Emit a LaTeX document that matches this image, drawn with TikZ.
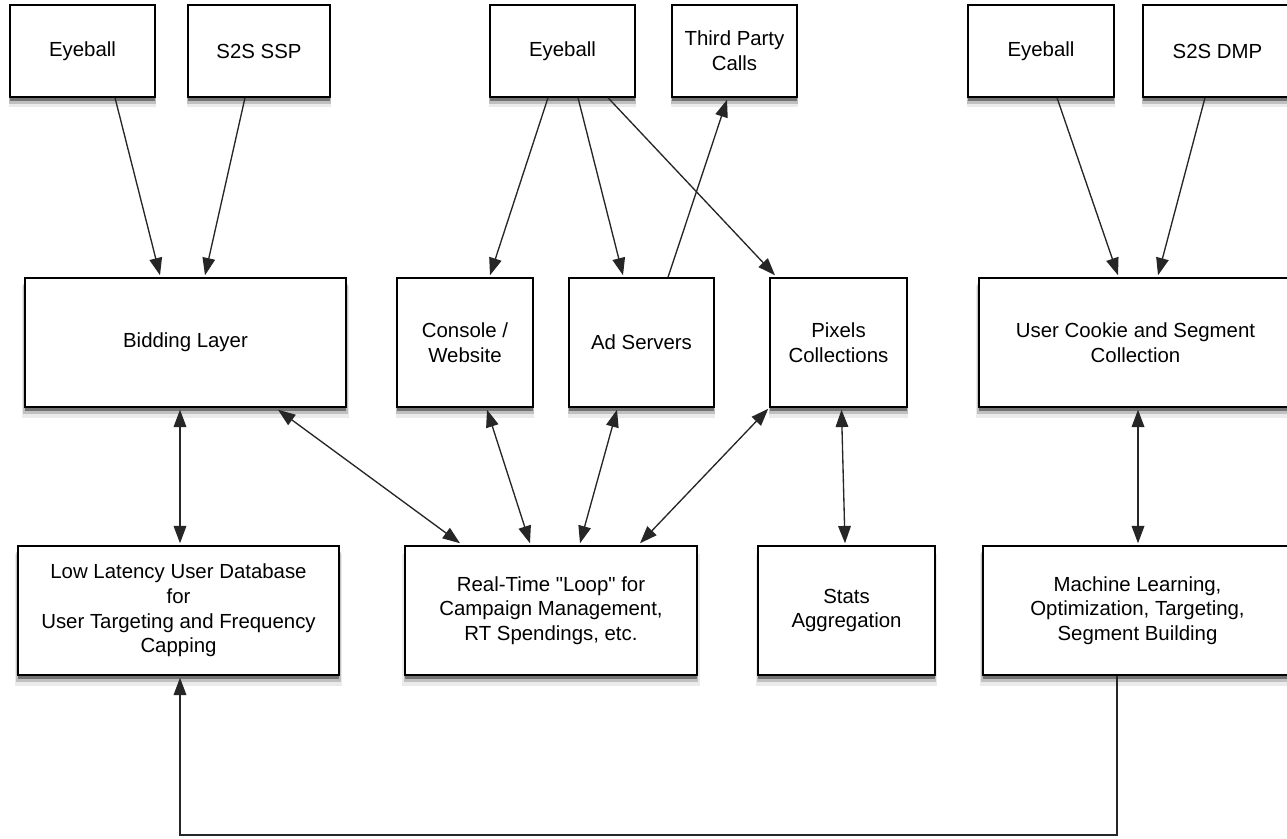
\documentclass[tikz,border=0pt]{standalone}
\usepackage{fontspec}
\setmainfont{Liberation Sans}[Ligatures=TeXOff]
\usetikzlibrary{shadows,arrows.meta,calc}
\tikzset{bigtip/.tip={Triangle[length=13pt,width=9.5pt]}}
\begin{document}
\begin{tikzpicture}[x=0.75pt,y=-0.75pt,
  box/.style 2 args={draw=black,line width=1.1pt,fill=white,
    minimum width=#1*0.75pt,minimum height=#2*0.75pt,inner sep=0pt,
    align=center,font=\fontsize{15.3}{18.5}\selectfont,
    drop shadow={shadow xshift=0pt,shadow yshift=-7pt,shadow scale=1.02,opacity=0.08,fill=black},
    drop shadow={shadow xshift=0pt,shadow yshift=-5pt,shadow scale=1.01,opacity=0.18,fill=black},
    drop shadow={shadow xshift=0pt,shadow yshift=-3pt,opacity=0.4,fill=black}},
  conn/.style={line width=1pt,draw=black!85},
  arr/.style={conn,-bigtip},
  barr/.style={conn,bigtip-bigtip}]
\clip (0,0) rectangle (1287,838);
\useasboundingbox (0,0) rectangle (1287,838);
\fill[white] (0,0) rectangle (1287,838);
% top row
\node[box={145}{92}] (e1) at (82.5,51) {Eyeball};
\node[box={142}{92}] (ssp) at (259,51) {S2S SSP};
\node[box={145}{92}] (e2) at (562.5,51) {Eyeball};
\node[box={125}{92}] (tp) at (734.5,51) {Third Party\\Calls};
\node[box={146}{92}] (e3) at (1041,51) {Eyeball};
\node[box={149}{92}] (dmp) at (1217.5,51) {S2S DMP};
% middle row
\node[box={321}{129}] (bid) at (185.5,342.5) {Bidding Layer};
\node[box={136}{129}] (con) at (465,342.5) {Console /\\Website};
\node[box={145}{129}] (ads) at (641.5,342.5) {Ad Servers};
\node[box={137}{129}] (pix) at (838.5,342.5) {Pixels\\Collections};
\node[box={313}{129}] (uc) at (1135.5,342.5) {User Cookie and Segment\\Collection};
% bottom row
\node[box={321}{129}] (low) at (178.5,610.5) {Low Latency User Database\\for\\User Targeting and Frequency\\Capping};
\node[box={292}{129}] (rt) at (551,610.5) {Real-Time "Loop" for\\Campaign Management,\\RT Spendings, etc.};
\node[box={177}{129}] (st) at (846.5,610.5) {Stats\\Aggregation};
\node[box={309}{129}] (ml) at (1137.5,610.5) {Machine Learning,\\Optimization, Targeting,\\Segment Building};
% top arrows
\draw[arr] ($(e1.south)+(32.5,0)$) -- ($(bid.north)+(-25.5,-2)$);
\draw[arr] ($(ssp.south)+(-14,0)$) -- ($(bid.north)+(19.5,-2)$);
\draw[arr] ($(e2.south)+(-14.5,0)$) -- ($(con.north)+(25,-2)$);
\draw[arr] ($(e2.south)+(15.5,0)$) -- ($(ads.north)+(-18.5,-2)$);
\draw[arr] ($(e2.south)+(45.5,0)$) -- ($(pix.north)+(-63.5,-2)$);
\draw[arr] ($(ads.north)+(26.5,0)$) -- ($(tp.south)+(-7.5,2)$);
\draw[arr] ($(e3.south)+(16,0)$) -- ($(uc.north)+(-17.5,-2)$);
\draw[arr] ($(dmp.south)+(-12.5,0)$) -- ($(uc.north)+(22.5,-2)$);
% middle-bottom arrows
\draw[barr] ($(bid.south)+(-5.5,2)$) -- ($(low.north)+(1.5,-2)$);
\draw[barr] ($(bid.south)+(92.5,2)$) -- ($(rt.north)+(-91,-2)$);
\draw[barr] ($(con.south)+(22,2)$) -- ($(rt.north)+(-21,-2)$);
\draw[barr] ($(ads.south)+(-24.5,2)$) -- ($(rt.north)+(29,-2)$);
\draw[barr] ($(pix.south west)+(-1,1)$) -- ($(rt.north)+(89,-2)$);
\draw[barr] ($(pix.south)+(3,2)$) -- ($(st.north)+(-1.5,-2)$);
\draw[barr] ($(uc.south)+(2.5,2)$) -- ($(ml.north)+(0.5,-2)$);
% feedback loop
\coordinate (c2) at (180,835);
\draw[arr] ($(ml.south)+(-20.5,0)$) |- (c2) -- ($(low.south)+(1.5,2)$);
\end{tikzpicture}
\end{document}
